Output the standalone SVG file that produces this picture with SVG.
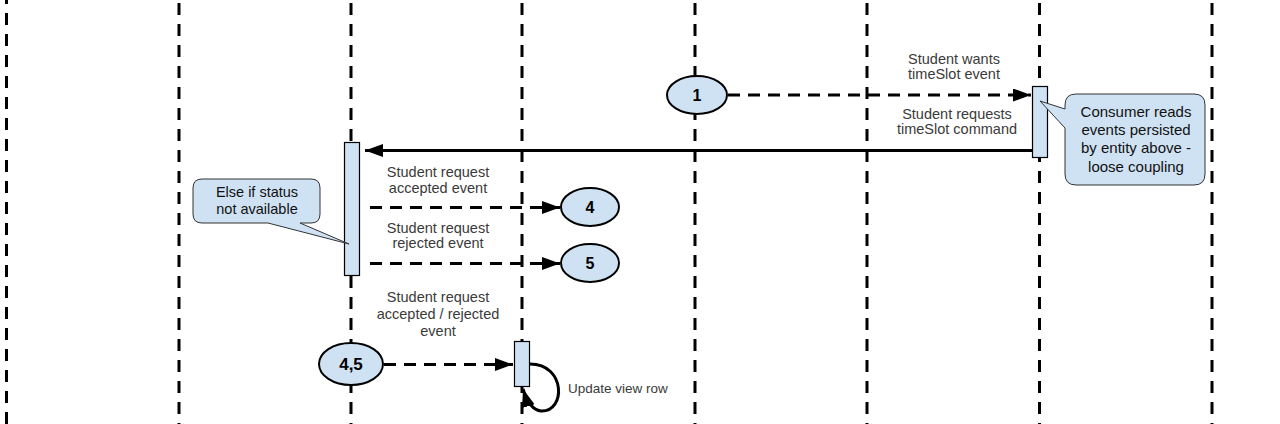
<svg xmlns="http://www.w3.org/2000/svg" width="1280" height="424" viewBox="0 0 1280 424">
<defs>
<style>
.life{stroke:#000;stroke-width:3;stroke-dasharray:12 9;fill:none}
.msg{stroke:#000;stroke-width:3;fill:none}
.dash{stroke-dasharray:12 8}
.act{fill:#cfe2f3;stroke:#000;stroke-width:1.2}
.node{fill:#cfe2f3;stroke:#000;stroke-width:2}
.num{font-family:"Liberation Sans",Arial,sans-serif;font-size:16px;font-weight:bold;fill:#000;text-anchor:middle}
.lbl{font-family:"Liberation Sans",Arial,sans-serif;font-size:14.5px;fill:#3a3a3a;text-anchor:middle}
.note{fill:#cfe2f3;stroke:#333;stroke-width:1}
.ntxt{font-family:"Liberation Sans",Arial,sans-serif;font-size:15px;fill:#111;text-anchor:middle}
</style>
<marker id="ah" viewBox="0 0 10 10" refX="10" refY="5" markerWidth="18" markerHeight="13" orient="auto" markerUnits="userSpaceOnUse" preserveAspectRatio="none">
<path d="M0,0 L10,5 L0,10 z" fill="#000"/>
</marker>
</defs>
<g id="lifelines">
<line class="life" x1="6.5" y1="-8" x2="6.5" y2="424"/>
<line class="life" x1="179" y1="3" x2="179" y2="424"/>
<line class="life" x1="351" y1="3" x2="351" y2="424"/>
<line class="life" x1="522" y1="3" x2="522" y2="424"/>
<line class="life" x1="695" y1="3" x2="695" y2="424"/>
<line class="life" x1="867" y1="3" x2="867" y2="424"/>
<line class="life" x1="1039.5" y1="3" x2="1039.5" y2="424"/>
<line class="life" x1="1212" y1="3" x2="1212" y2="424"/>
</g>
<g id="activations">
<rect id="act-right" class="act" x="1032.5" y="86.5" width="15" height="71"/>
<rect id="act-left" class="act" x="344.5" y="142.5" width="15" height="133"/>
<rect id="act-bottom" class="act" x="514.5" y="341.5" width="15" height="45"/>
</g>
<g id="connectors">
<line class="msg dash" x1="728" y1="95" x2="1031" y2="95" marker-end="url(#ah)"/>
<line class="msg" x1="1032" y1="150.5" x2="365" y2="150.5" marker-end="url(#ah)"/>
<line class="msg dash" x1="370" y1="207.5" x2="560" y2="207.5" marker-end="url(#ah)"/>
<line class="msg dash" x1="370" y1="263.5" x2="560" y2="263.5" marker-end="url(#ah)"/>
<line class="msg dash" x1="384" y1="364.5" x2="513" y2="364.5" marker-end="url(#ah)"/>
<path class="msg" d="M530,364 C566,364 566,412 541,411 C532,410 527,402 523,389" stroke-width="2.5" marker-end="url(#ah)"/>
</g>
<g id="labels">
<text class="lbl" x="954" y="64">Student wants</text>
<text class="lbl" x="954" y="79">timeSlot event</text>
<text class="lbl" x="957" y="119">Student requests</text>
<text class="lbl" x="957" y="134">timeSlot command</text>
<text class="lbl" x="438" y="177">Student request</text>
<text class="lbl" x="438" y="193">accepted event</text>
<text class="lbl" x="438" y="233">Student request</text>
<text class="lbl" x="438" y="248">rejected event</text>
<text class="lbl" x="438" y="302">Student request</text>
<text class="lbl" x="438" y="319">accepted / rejected</text>
<text class="lbl" x="438" y="336">event</text>
<text class="lbl" x="568" y="393" style="text-anchor:start;font-size:13.5px">Update view row</text>
</g>
<g id="node-1">
<ellipse class="node" cx="697" cy="95" rx="30" ry="19"/>
<text class="num" x="697" y="101">1</text>
</g>
<g id="node-4">
<ellipse class="node" cx="590" cy="207" rx="29" ry="19"/>
<text class="num" x="590" y="213">4</text>
</g>
<g id="node-5">
<ellipse class="node" cx="590" cy="263" rx="29" ry="19"/>
<text class="num" x="590" y="269">5</text>
</g>
<g id="node-45">
<ellipse class="node" cx="351" cy="364" rx="32" ry="21"/>
<text class="num" x="351" y="370" style="font-size:17px">4,5</text>
</g>
<g id="note-right">
<path class="note" d="M1076,94 H1194 Q1205,94 1205,105 V174 Q1205,185 1194,185 H1076 Q1065,185 1065,174 V128 L1040,101 L1065,109 V105 Q1065,94 1076,94 Z"/>
<text class="ntxt" x="1136" y="117">Consumer reads</text>
<text class="ntxt" x="1136" y="135">events persisted</text>
<text class="ntxt" x="1136" y="153">by entity above -</text>
<text class="ntxt" x="1136" y="172">loose coupling</text>
</g>
<g id="note-left">
<path class="note" d="M202,179 H311 Q320,179 320,188 V214 Q320,223 311,223 H300 L349,244 L268,223 H202 Q193,223 193,214 V188 Q193,179 202,179 Z"/>
<text class="ntxt" x="257" y="197" style="font-size:14.5px">Else if status</text>
<text class="ntxt" x="257" y="214" style="font-size:14.5px">not available</text>
</g>
</svg>
